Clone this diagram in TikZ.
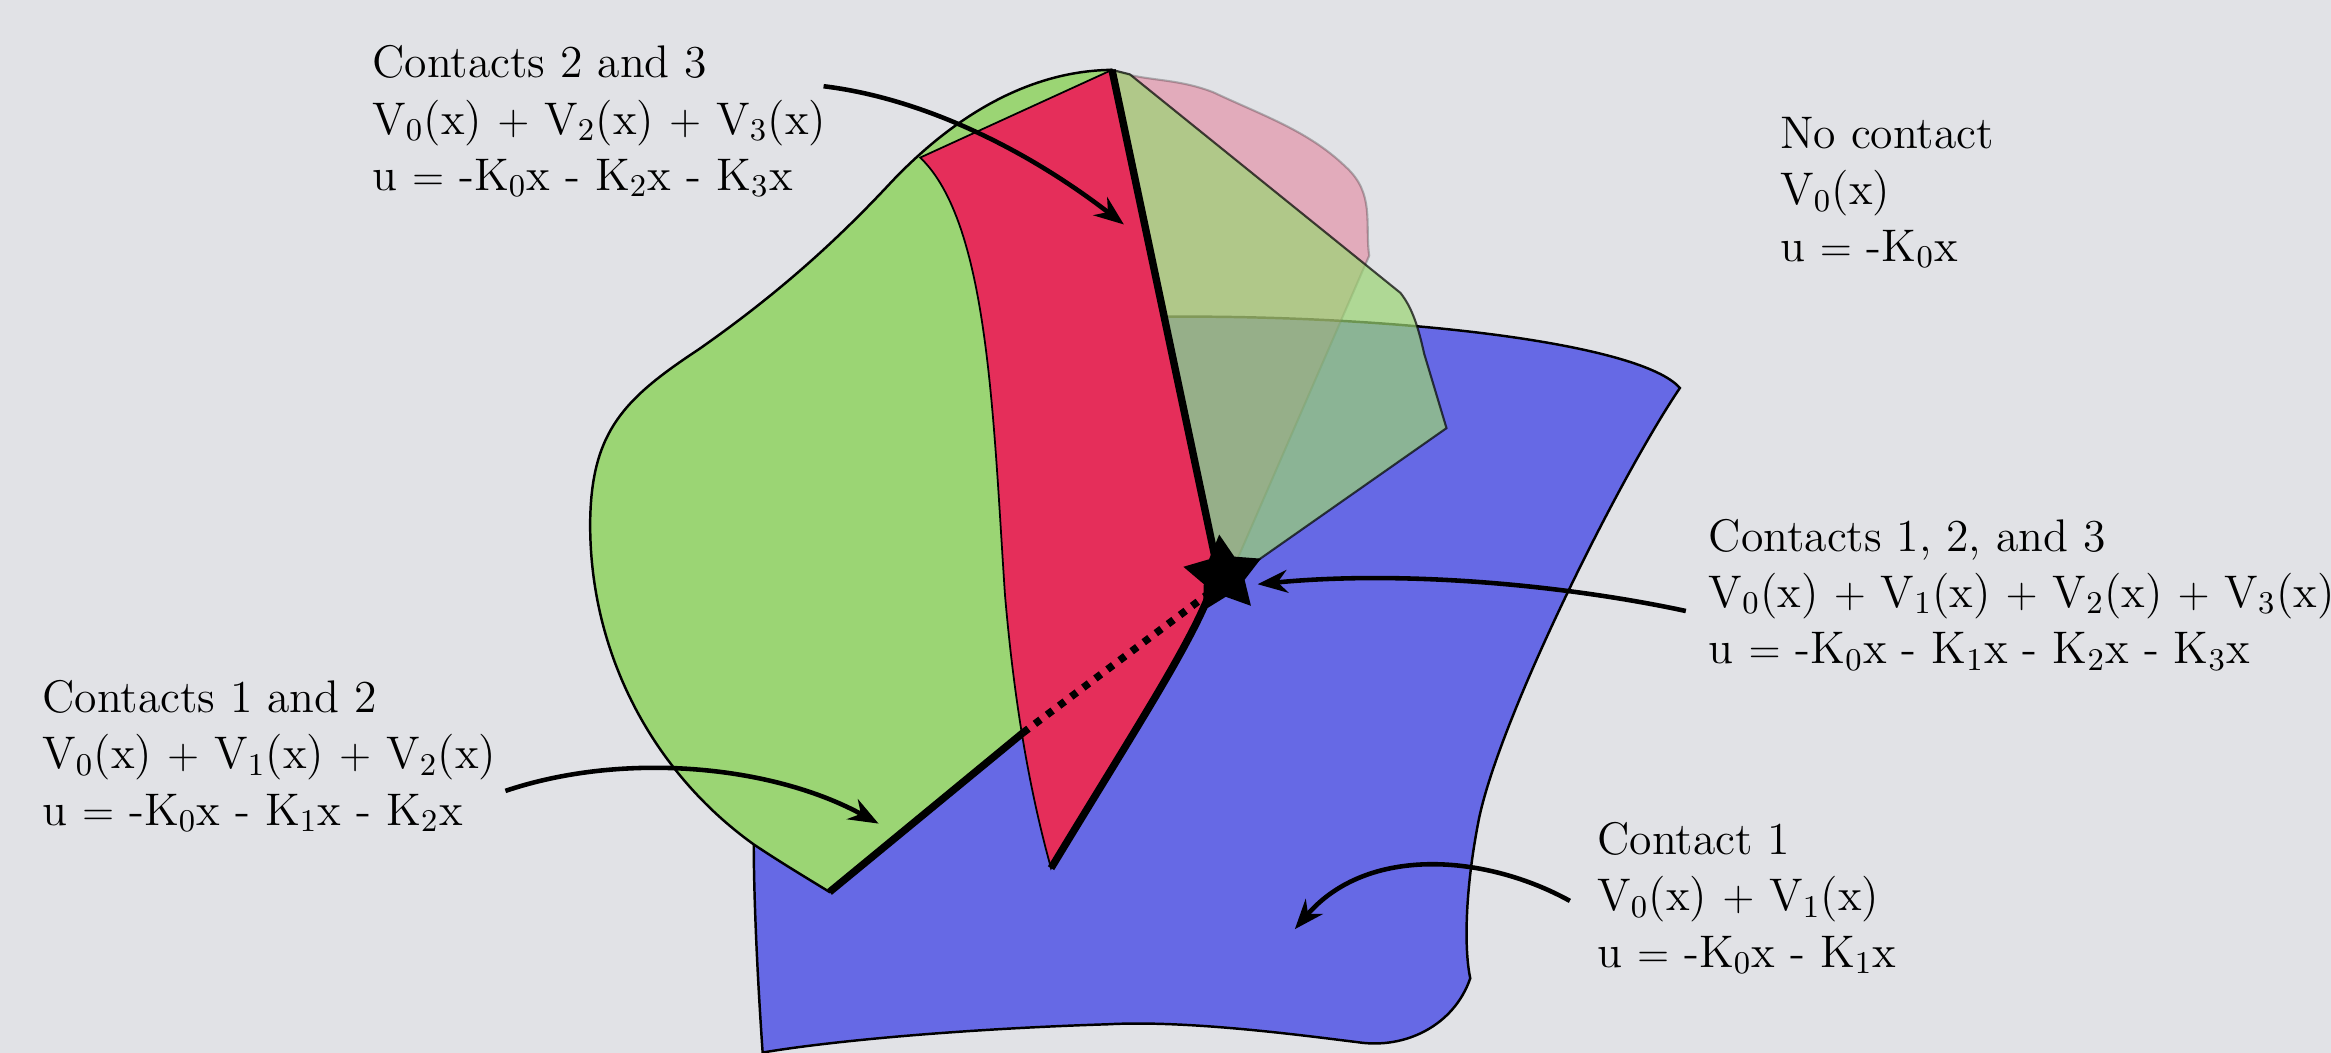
\documentclass[tikz,border=0pt]{standalone}
\usepackage{tikz}
\usetikzlibrary{arrows.meta, shapes.geometric}

\definecolor{bggray}{RGB}{225,226,230}
\definecolor{cgreen}{RGB}{155,213,116}
\definecolor{cred}{RGB}{229,46,90}
\definecolor{cblue}{RGB}{102,105,229}

\begin{document}
\begin{tikzpicture}[x=0.014866cm, y=-0.014866cm,
    region/.style={draw=black, line width=0.7pt},
    glass/.style={draw=black, line width=0.6pt},
    edge/.style={line width=2.1pt},
    pointer/.style={-{Stealth[length=8.5pt, width=6.5pt]}, line width=1.3pt},
    lbl/.style={anchor=west, align=left, inner sep=0pt, font=\fontsize{13}{16}\selectfont}]

    \fill[bggray] (0,0) rectangle (1568,708);
    \useasboundingbox (0,0) rectangle (1568,708);

    % contact 1 only
    \filldraw[region, fill=cblue] (785,213) .. controls (950,212) and (1105,232) .. (1130,261)
        .. controls (1090,320) and (1010,480) .. (995,550)
        .. controls (985,600) and (985,640) .. (989,658)
        .. controls (978,690) and (945,706) .. (913,701)
        .. controls (880,697) and (800,686) .. (745,689)
        .. controls (650,692) and (560,700) .. (513,708)
        .. controls (509,650) and (507,600) .. (507,565)
        -- (600,420) -- (700,300) -- cycle;

    % contacts 1 and 2
    \filldraw[region, fill=cgreen] (747,47) .. controls (690,48) and (640,80) .. (600,122)
        .. controls (560,165) and (520,200) .. (470,235)
        .. controls (420,268) and (398,290) .. (397,350)
        .. controls (396,440) and (440,520) .. (507,568)
        .. controls (525,580) and (540,589) .. (558,600)
        -- (688,493) -- (740,200) -- cycle;

    % contacts 2 and 3
    \filldraw[draw=black, line width=0.5pt, fill=cred] (619,106) -- (748,47) -- (819,383)
        .. controls (810,420) and (770,480) .. (707,584)
        .. controls (692,530) and (682,470) .. (676,400)
        .. controls (668,280) and (665,150) .. (619,106) -- cycle;

    % see-through patches behind the corner
    \filldraw[glass, fill=cred, fill opacity=0.3, draw opacity=0.25] (817,377) -- (748,47)
        .. controls (770,55) and (790,52) .. (816,62)
        .. controls (850,78) and (880,88) .. (905,112)
        .. controls (925,130) and (918,150) .. (921,172)
        -- (832,377) -- cycle;
    \filldraw[glass, fill=cgreen, fill opacity=0.7, draw opacity=0.7] (817,377) -- (748,47) -- (760,50) -- (942,197)
        .. controls (950,207) and (954,220) .. (958,238)
        -- (973,288) -- (846,377) -- cycle;

    % contact edges
    \draw[edge] (748,47) -- (819,383);
    \draw[edge] (819,383) .. controls (810,420) and (770,480) .. (707,584);
    \draw[edge] (558,600) -- (688,493);
    \draw[edge, dash pattern=on 2pt off 2.3pt] (688,493) -- (812,400);

    \node[star, star points=5, star point ratio=1.9, rotate=6, fill=black, minimum size=0.82cm, inner sep=0pt] (t123) at (823,387) {};

    % labels
    \node[lbl] (c23) at (250,81.5) {Contacts 2 and 3\\ V$_0$(x) $+$ V$_2$(x) $+$ V$_3$(x)\\ u $=$ -K$_0$x - K$_2$x - K$_3$x};
    \node[lbl] (c0) at (1197,129.5) {No contact\\ V$_0$(x)\\ u $=$ -K$_0$x};
    \node[lbl] (c123) at (1149,400) {Contacts 1, 2, and 3\\ V$_0$(x) $+$ V$_1$(x) $+$ V$_2$(x) $+$ V$_3$(x)\\ u $=$ -K$_0$x - K$_1$x - K$_2$x - K$_3$x};
    \node[lbl] (c12) at (28,508.5) {Contacts 1 and 2\\ V$_0$(x) $+$ V$_1$(x) $+$ V$_2$(x)\\ u $=$ -K$_0$x - K$_1$x - K$_2$x};
    \node[lbl] (c1) at (1074,604) {Contact 1\\ V$_0$(x) $+$ V$_1$(x)\\ u $=$ -K$_0$x - K$_1$x};

    % pointers
    \coordinate (s23) at (554,58);
    \coordinate (e23) at (756,151);
    \coordinate (s123) at (1134,411);
    \coordinate (e123) at (846,393);
    \coordinate (s12) at (340,532);
    \coordinate (e12) at (591,554);
    \coordinate (s1) at (1056,606);
    \coordinate (e1) at (871,625);

    \draw[pointer] (s23) .. controls (620,66) and (690,100) .. (e23);
    \draw[pointer] (s123) .. controls (1060,395) and (950,383) .. (e123);
    \draw[pointer] (s12) .. controls (420,505) and (520,515) .. (e12);
    \draw[pointer] (s1) .. controls (1000,575) and (920,568) .. (e1);
\end{tikzpicture}
\end{document}
